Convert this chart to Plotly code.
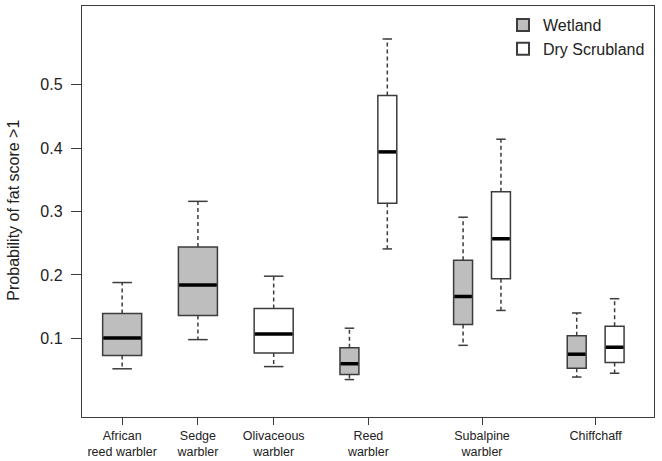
import plotly.graph_objects as go

# ---- data ----
species_labels = ["African<br>reed warbler", "Sedge<br>warbler", "Olivaceous<br>warbler",
                  "Reed<br>warbler", "Subalpine<br>warbler", "Chiffchaff"]
habitats = ["Wetland", "Dry Scrubland"]

box_habitat = ["Wetland", "Wetland", "Dry Scrubland", "Wetland", "Dry Scrubland",
               "Wetland", "Dry Scrubland", "Wetland", "Dry Scrubland"]
whisk_lo = [0.052, 0.098, 0.0555, 0.035, 0.241, 0.089, 0.144, 0.039, 0.045]
q1_vals  = [0.073, 0.136, 0.077, 0.043, 0.313, 0.122, 0.194, 0.053, 0.062]
med_vals = [0.1005, 0.184, 0.107, 0.060, 0.394, 0.166, 0.257, 0.075, 0.086]
q3_vals  = [0.139, 0.244, 0.147, 0.085, 0.483, 0.223, 0.331, 0.104, 0.119]
whisk_hi = [0.188, 0.316, 0.198, 0.116, 0.572, 0.291, 0.414, 0.140, 0.1625]

# ---- layout (positions / sizes) ----
box_pos = [1, 2, 3, 4, 4.5, 5.5, 6, 7, 7.5]
box_wid = [0.515, 0.515, 0.515, 0.25, 0.25, 0.25, 0.25, 0.25, 0.25]
tick_pos = [1, 2, 3, 4.25, 5.75, 7.25]
y_ticks = [0.1, 0.2, 0.3, 0.4, 0.5]

fills = {"Wetland": "#bebebe", "Dry Scrubland": "#ffffff"}
edge = "#3c3c3c"
FONT = "Arial, Liberation Sans, sans-serif"

fig = go.Figure()
shown = set()
for i in range(len(box_pos)):
    h = box_habitat[i]
    fig.add_trace(go.Box(
        x=[box_pos[i]], q1=[q1_vals[i]], median=[med_vals[i]], q3=[q3_vals[i]],
        lowerfence=[q1_vals[i]], upperfence=[q3_vals[i]],
        width=box_wid[i], name=h, legendgroup=h, showlegend=h not in shown,
        fillcolor=fills[h], line=dict(color=edge, width=1.5),
        boxpoints=False, whiskerwidth=0, hoverinfo="skip",
    ))
    shown.add(h)

# whiskers (dashed), staples, medians
wx, wy, sx, sy, mx, my = [], [], [], [], [], []
for i in range(len(box_pos)):
    x, w = box_pos[i], box_wid[i]
    wx += [x, x, None, x, x, None]
    wy += [q3_vals[i], whisk_hi[i], None, q1_vals[i], whisk_lo[i], None]
    sx += [x - w / 4, x + w / 4, None, x - w / 4, x + w / 4, None]
    sy += [whisk_hi[i], whisk_hi[i], None, whisk_lo[i], whisk_lo[i], None]
    mx += [x - w / 2 + 0.01, x + w / 2 - 0.01, None]
    my += [med_vals[i], med_vals[i], None]

fig.add_trace(go.Scatter(x=wx, y=wy, mode="lines", showlegend=False, hoverinfo="skip",
                         line=dict(color=edge, width=1.5, dash="4px,3px")))
fig.add_trace(go.Scatter(x=sx, y=sy, mode="lines", showlegend=False, hoverinfo="skip",
                         line=dict(color=edge, width=1.5)))
fig.add_trace(go.Scatter(x=mx, y=my, mode="lines", showlegend=False, hoverinfo="skip",
                         line=dict(color="#000000", width=3.5)))

fig.update_layout(
    width=662, height=461,
    margin=dict(l=82, r=8, t=6, b=44),
    paper_bgcolor="white", plot_bgcolor="white",
    font=dict(family=FONT, color="#222222"),
    boxmode="overlay",
    legend=dict(x=0.736, y=0.995, xanchor="left", yanchor="top",
                font=dict(size=16, family=FONT, color="#222222"),
                bgcolor="rgba(0,0,0,0)", tracegroupgap=0, itemsizing="constant"),
    xaxis=dict(range=[0.47, 8.02], tickmode="array", tickvals=tick_pos, ticktext=species_labels,
               ticks="outside", ticklen=7, tickcolor=edge, tickwidth=1.4, automargin=False,
               showline=True, linecolor=edge, linewidth=1.4, mirror=True,
               showgrid=False, zeroline=False, tickfont=dict(size=12.5, family=FONT)),
    yaxis=dict(range=[-0.024, 0.624], tickmode="array", tickvals=y_ticks,
               ticktext=[f"{v:.1f}" for v in y_ticks], automargin=False,
               ticks="outside", ticklen=10, tickcolor=edge, tickwidth=1.4,
               ticklabelstandoff=5,
               showline=True, linecolor=edge, linewidth=1.4, mirror=True,
               showgrid=False, zeroline=False, tickfont=dict(size=16, family=FONT)),
    annotations=[dict(text="Probability of fat score >1", xref="paper", yref="paper",
                      x=-0.12, y=0.503, xanchor="center", yanchor="middle",
                      textangle=-90, showarrow=False,
                      font=dict(size=16, family=FONT, color="#222222"))],
)

fig.write_html("out.html", config={"displayModeBar": False},
               post_script="document.body.style.margin='0';document.body.style.padding='0';")
